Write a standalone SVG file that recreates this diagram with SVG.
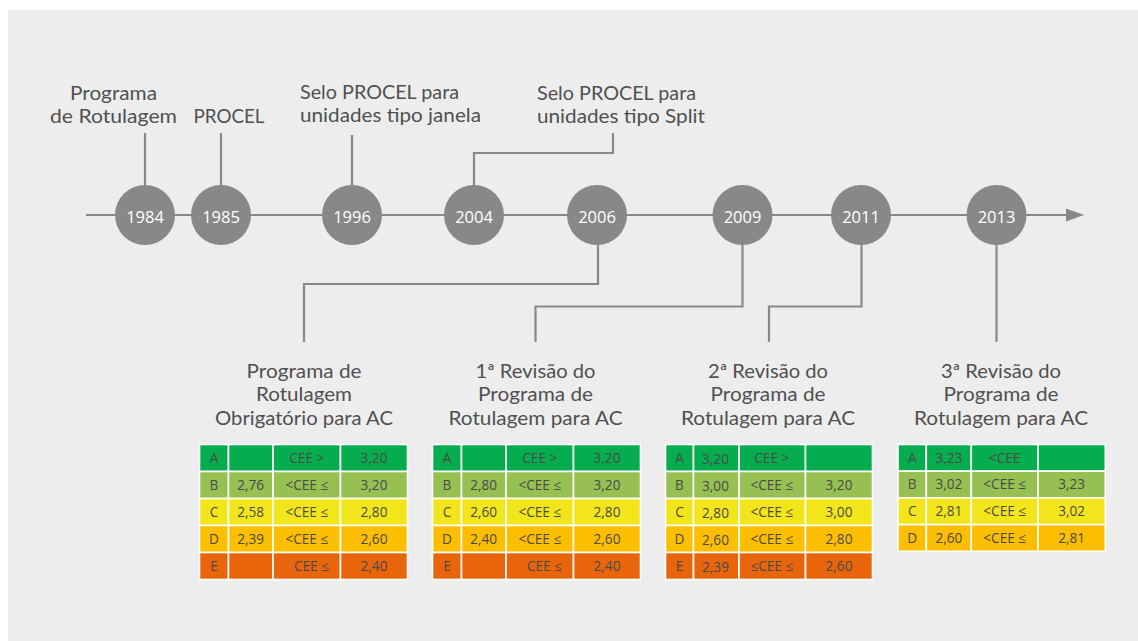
<svg xmlns="http://www.w3.org/2000/svg" width="1138" height="641" viewBox="0 0 1138 641">
<style>
.bg{fill:#ededed}
.ln{fill:none;stroke:#888888;stroke-width:2.2}
.yr circle{fill:#888888}
.yr text{font-family:"Open Sans","Liberation Sans",sans-serif;font-size:16.5px;fill:#ffffff;text-anchor:middle}
.lbl{font-family:Lato,"Liberation Sans",sans-serif;font-size:19px;fill:#505050}
.c{text-anchor:middle}
.tb rect{stroke:#ffffff;stroke-width:1.6}
.tb text{font-family:"Open Sans","Liberation Sans",sans-serif;font-size:13.6px;fill:#4a4a4a;text-anchor:middle}
.A{fill:#06ad4f}.B{fill:#96c152}.C{fill:#f3e51b}.D{fill:#fdbe00}.E{fill:#e9650b}
</style>
<rect class="bg" x="8" y="10" width="1130" height="631"/>

<g id="connectors">
<line class="ln" x1="86" y1="215" x2="1068" y2="215"/>
<polygon points="1066,208.5 1084,215 1066,221.5" fill="#888888"/>
<line class="ln" x1="145" y1="133" x2="145" y2="186"/>
<line class="ln" x1="221" y1="133" x2="221" y2="186"/>
<line class="ln" x1="352" y1="135" x2="352" y2="186"/>
<polyline class="ln" points="474,186 474,153 613,153 613,133"/>
<polyline class="ln" points="598,244 598,284 304,284 304,342"/>
<polyline class="ln" points="742.5,244 742.5,306.5 535.5,306.5 535.5,342"/>
<polyline class="ln" points="861.5,244 861.5,306.5 769,306.5 769,342"/>
<line class="ln" x1="996.5" y1="244" x2="996.5" y2="342"/>
</g>

<g id="n1984" class="yr"><circle cx="145" cy="215" r="30"/><text x="145" y="222.5">1984</text></g>
<g id="n1985" class="yr"><circle cx="221" cy="215" r="30"/><text x="221" y="222.5">1985</text></g>
<g id="n1996" class="yr"><circle cx="352" cy="215" r="30"/><text x="352" y="222.5">1996</text></g>
<g id="n2004" class="yr"><circle cx="474" cy="215" r="30"/><text x="474" y="222.5">2004</text></g>
<g id="n2006" class="yr"><circle cx="597" cy="215" r="30"/><text x="597" y="222.5">2006</text></g>
<g id="n2009" class="yr"><circle cx="742.5" cy="215" r="30"/><text x="742.5" y="222.5">2009</text></g>
<g id="n2011" class="yr"><circle cx="861" cy="215" r="30"/><text x="861" y="222.5">2011</text></g>
<g id="n2013" class="yr"><circle cx="996.5" cy="215" r="30"/><text x="996.5" y="222.5">2013</text></g>

<g id="label1984">
<text class="lbl c" x="113.5" y="100" textLength="87" lengthAdjust="spacingAndGlyphs">Programa</text>
<text class="lbl c" x="113.5" y="123" textLength="127" lengthAdjust="spacingAndGlyphs">de Rotulagem</text>
</g>
<g id="label1985"><text class="lbl" x="193.5" y="123" textLength="71" lengthAdjust="spacingAndGlyphs">PROCEL</text></g>
<g id="label1996">
<text class="lbl" x="300" y="98.5" textLength="159" lengthAdjust="spacingAndGlyphs">Selo PROCEL para</text>
<text class="lbl" x="300" y="121.5" textLength="181" lengthAdjust="spacingAndGlyphs">unidades tipo janela</text>
</g>
<g id="label2004">
<text class="lbl" x="537" y="100" textLength="159" lengthAdjust="spacingAndGlyphs">Selo PROCEL para</text>
<text class="lbl" x="537" y="123" textLength="168" lengthAdjust="spacingAndGlyphs">unidades tipo Split</text>
</g>

<g id="label2006">
<text class="lbl c" x="304" y="378" textLength="115" lengthAdjust="spacingAndGlyphs">Programa de</text>
<text class="lbl c" x="304" y="401.3" textLength="96" lengthAdjust="spacingAndGlyphs">Rotulagem</text>
<text class="lbl c" x="304" y="424.5" textLength="178" lengthAdjust="spacingAndGlyphs">Obrigatório para AC</text>
</g>
<g id="label2009">
<text class="lbl c" x="535.5" y="378" textLength="120" lengthAdjust="spacingAndGlyphs">1ª Revisão do</text>
<text class="lbl c" x="535.5" y="401.3" textLength="115" lengthAdjust="spacingAndGlyphs">Programa de</text>
<text class="lbl c" x="535.5" y="424.5" textLength="174" lengthAdjust="spacingAndGlyphs">Rotulagem para AC</text>
</g>
<g id="label2011">
<text class="lbl c" x="768" y="378" textLength="120" lengthAdjust="spacingAndGlyphs">2ª Revisão do</text>
<text class="lbl c" x="768" y="401.3" textLength="115" lengthAdjust="spacingAndGlyphs">Programa de</text>
<text class="lbl c" x="768" y="424.5" textLength="174" lengthAdjust="spacingAndGlyphs">Rotulagem para AC</text>
</g>
<g id="label2013">
<text class="lbl c" x="1001" y="378" textLength="120" lengthAdjust="spacingAndGlyphs">3ª Revisão do</text>
<text class="lbl c" x="1001" y="401.3" textLength="115" lengthAdjust="spacingAndGlyphs">Programa de</text>
<text class="lbl c" x="1001" y="424.5" textLength="174" lengthAdjust="spacingAndGlyphs">Rotulagem para AC</text>
</g>

<g id="table1" class="tb" transform="translate(199.5,444.5)">
<rect class="A" x="0" y="0" width="29" height="27"/><rect class="A" x="29" y="0" width="44.5" height="27"/><rect class="A" x="73.5" y="0" width="67.5" height="27"/><rect class="A" x="141" y="0" width="67" height="27"/>
<rect class="B" x="0" y="27" width="29" height="27"/><rect class="B" x="29" y="27" width="44.5" height="27"/><rect class="B" x="73.5" y="27" width="67.5" height="27"/><rect class="B" x="141" y="27" width="67" height="27"/>
<rect class="C" x="0" y="54" width="29" height="27"/><rect class="C" x="29" y="54" width="44.5" height="27"/><rect class="C" x="73.5" y="54" width="67.5" height="27"/><rect class="C" x="141" y="54" width="67" height="27"/>
<rect class="D" x="0" y="81" width="29" height="27"/><rect class="D" x="29" y="81" width="44.5" height="27"/><rect class="D" x="73.5" y="81" width="67.5" height="27"/><rect class="D" x="141" y="81" width="67" height="27"/>
<rect class="E" x="0" y="108" width="29" height="27"/><rect class="E" x="29" y="108" width="44.5" height="27"/><rect class="E" x="73.5" y="108" width="67.5" height="27"/><rect class="E" x="141" y="108" width="67" height="27"/>
<text x="14.5" y="18.3">A</text><text x="107.3" y="18.3">CEE &gt;</text><text x="174.5" y="18.3">3,20</text>
<text x="14.5" y="45.3">B</text><text x="51.2" y="45.3">2,76</text><text x="107.3" y="45.3">&lt;CEE ≤</text><text x="174.5" y="45.3">3,20</text>
<text x="14.5" y="72.3">C</text><text x="51.2" y="72.3">2,58</text><text x="107.3" y="72.3">&lt;CEE ≤</text><text x="174.5" y="72.3">2,80</text>
<text x="14.5" y="99.3">D</text><text x="51.2" y="99.3">2,39</text><text x="107.3" y="99.3">&lt;CEE ≤</text><text x="174.5" y="99.3">2,60</text>
<text x="14.5" y="126.3">E</text><text x="112" y="126.3">CEE ≤</text><text x="174.5" y="126.3">2,40</text>
</g>

<g id="table2" class="tb" transform="translate(432.5,444.5)">
<rect class="A" x="0" y="0" width="29" height="27"/><rect class="A" x="29" y="0" width="44.5" height="27"/><rect class="A" x="73.5" y="0" width="67.5" height="27"/><rect class="A" x="141" y="0" width="67" height="27"/>
<rect class="B" x="0" y="27" width="29" height="27"/><rect class="B" x="29" y="27" width="44.5" height="27"/><rect class="B" x="73.5" y="27" width="67.5" height="27"/><rect class="B" x="141" y="27" width="67" height="27"/>
<rect class="C" x="0" y="54" width="29" height="27"/><rect class="C" x="29" y="54" width="44.5" height="27"/><rect class="C" x="73.5" y="54" width="67.5" height="27"/><rect class="C" x="141" y="54" width="67" height="27"/>
<rect class="D" x="0" y="81" width="29" height="27"/><rect class="D" x="29" y="81" width="44.5" height="27"/><rect class="D" x="73.5" y="81" width="67.5" height="27"/><rect class="D" x="141" y="81" width="67" height="27"/>
<rect class="E" x="0" y="108" width="29" height="27"/><rect class="E" x="29" y="108" width="44.5" height="27"/><rect class="E" x="73.5" y="108" width="67.5" height="27"/><rect class="E" x="141" y="108" width="67" height="27"/>
<text x="14.5" y="18.3">A</text><text x="107.3" y="18.3">CEE &gt;</text><text x="174.5" y="18.3">3,20</text>
<text x="14.5" y="45.3">B</text><text x="51.2" y="45.3">2,80</text><text x="107.3" y="45.3">&lt;CEE ≤</text><text x="174.5" y="45.3">3,20</text>
<text x="14.5" y="72.3">C</text><text x="51.2" y="72.3">2,60</text><text x="107.3" y="72.3">&lt;CEE ≤</text><text x="174.5" y="72.3">2,80</text>
<text x="14.5" y="99.3">D</text><text x="51.2" y="99.3">2,40</text><text x="107.3" y="99.3">&lt;CEE ≤</text><text x="174.5" y="99.3">2,60</text>
<text x="14.5" y="126.3">E</text><text x="112" y="126.3">CEE ≤</text><text x="174.5" y="126.3">2,40</text>
</g>

<g id="table3" class="tb" transform="translate(665.5,444.5)">
<rect class="A" x="0" y="0" width="28" height="27"/><rect class="A" x="28" y="0" width="45.5" height="27"/><rect class="A" x="73.5" y="0" width="66.5" height="27"/><rect class="A" x="140" y="0" width="67" height="27"/>
<rect class="B" x="0" y="27" width="28" height="27"/><rect class="B" x="28" y="27" width="45.5" height="27"/><rect class="B" x="73.5" y="27" width="66.5" height="27"/><rect class="B" x="140" y="27" width="67" height="27"/>
<rect class="C" x="0" y="54" width="28" height="27"/><rect class="C" x="28" y="54" width="45.5" height="27"/><rect class="C" x="73.5" y="54" width="66.5" height="27"/><rect class="C" x="140" y="54" width="67" height="27"/>
<rect class="D" x="0" y="81" width="28" height="27"/><rect class="D" x="28" y="81" width="45.5" height="27"/><rect class="D" x="73.5" y="81" width="66.5" height="27"/><rect class="D" x="140" y="81" width="67" height="27"/>
<rect class="E" x="0" y="108" width="28" height="27"/><rect class="E" x="28" y="108" width="45.5" height="27"/><rect class="E" x="73.5" y="108" width="66.5" height="27"/><rect class="E" x="140" y="108" width="67" height="27"/>
<text x="14" y="18.3">A</text><text x="50" y="19.3">3,20</text><text x="106.3" y="18.3">CEE &gt;</text>
<text x="14" y="45.3">B</text><text x="50" y="46.3">3,00</text><text x="106.3" y="45.3">&lt;CEE ≤</text><text x="173.5" y="45.3">3,20</text>
<text x="14" y="72.3">C</text><text x="50" y="73.3">2,80</text><text x="106.3" y="72.3">&lt;CEE ≤</text><text x="173.5" y="72.3">3,00</text>
<text x="14" y="99.3">D</text><text x="50" y="100.3">2,60</text><text x="106.3" y="99.3">&lt;CEE ≤</text><text x="173.5" y="99.3">2,80</text>
<text x="14" y="126.3">E</text><text x="50" y="127.3">2,39</text><text x="106.3" y="126.3">≤CEE ≤</text><text x="173.5" y="126.3">2,60</text>
</g>

<g id="table4" class="tb" transform="translate(898,444.5)">
<rect class="A" x="0" y="0" width="28.3" height="26.7"/><rect class="A" x="28.3" y="0" width="45" height="26.7"/><rect class="A" x="73.3" y="0" width="66.7" height="26.7"/><rect class="A" x="140" y="0" width="67.3" height="26.7"/>
<rect class="B" x="0" y="26.7" width="28.3" height="26.7"/><rect class="B" x="28.3" y="26.7" width="45" height="26.7"/><rect class="B" x="73.3" y="26.7" width="66.7" height="26.7"/><rect class="B" x="140" y="26.7" width="67.3" height="26.7"/>
<rect class="C" x="0" y="53.4" width="28.3" height="26.7"/><rect class="C" x="28.3" y="53.4" width="45" height="26.7"/><rect class="C" x="73.3" y="53.4" width="66.7" height="26.7"/><rect class="C" x="140" y="53.4" width="67.3" height="26.7"/>
<rect class="D" x="0" y="80.1" width="28.3" height="26.7"/><rect class="D" x="28.3" y="80.1" width="45" height="26.7"/><rect class="D" x="73.3" y="80.1" width="66.7" height="26.7"/><rect class="D" x="140" y="80.1" width="67.3" height="26.7"/>
<text x="14.2" y="18.2">A</text><text x="50.8" y="18.2">3,23</text><text x="106.7" y="18.2">&lt;CEE</text>
<text x="14.2" y="44.9">B</text><text x="50.8" y="44.9">3,02</text><text x="106.7" y="44.9">&lt;CEE ≤</text><text x="173.7" y="44.9">3,23</text>
<text x="14.2" y="71.6">C</text><text x="50.8" y="71.6">2,81</text><text x="106.7" y="71.6">&lt;CEE ≤</text><text x="173.7" y="71.6">3,02</text>
<text x="14.2" y="98.3">D</text><text x="50.8" y="98.3">2,60</text><text x="106.7" y="98.3">&lt;CEE ≤</text><text x="173.7" y="98.3">2,81</text>
</g>
</svg>
